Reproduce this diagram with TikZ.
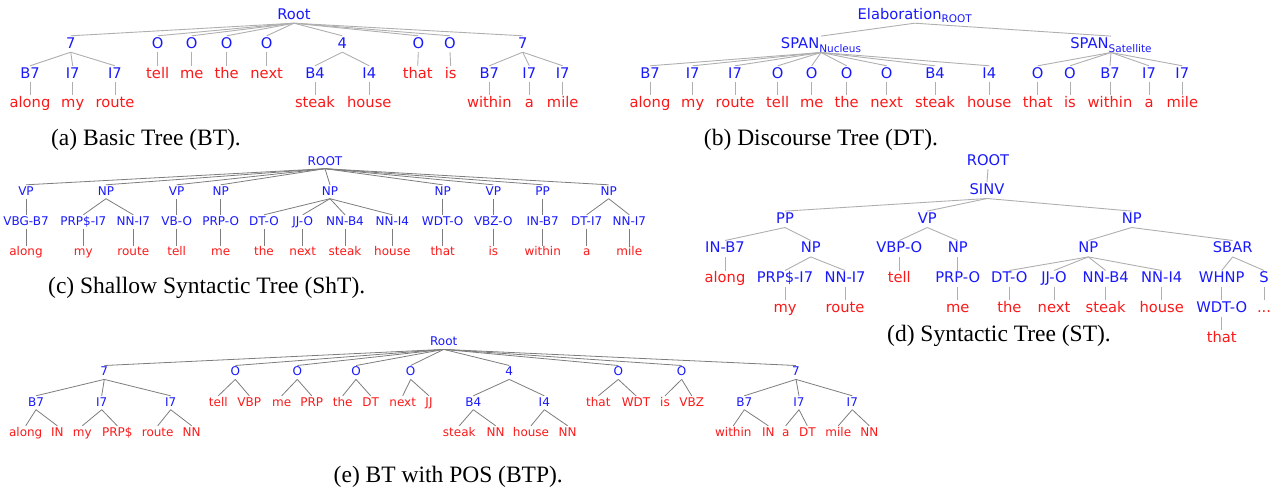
\documentclass[tikz,border=0pt]{standalone}
\usepackage{fontspec}
\setmainfont{Liberation Serif}
\newfontfamily\dejavu{DejaVu Sans}
\definecolor{tb}{RGB}{25,25,250}
\definecolor{tr}{RGB}{250,25,25}
\definecolor{la}{RGB}{175,175,175}
\definecolor{lc}{RGB}{125,125,125}
\newcommand\fbig{\dejavu\fontsize{14.7}{17}\selectfont}
\newcommand\fsmall{\dejavu\fontsize{12}{14}\selectfont}
\newcommand\fsub{\dejavu\fontsize{10.5}{12}\selectfont}
\begin{document}
\begin{tikzpicture}[x=1pt,y=-1pt,
  nb/.style={font=\fbig, text=tb, inner sep=1pt, text height=11pt, text depth=3pt, anchor=base},
  nr/.style={nb, text=tr},
  sb/.style={font=\fsmall, text=tb, inner sep=1pt, text height=9pt, text depth=2.5pt, anchor=base},
  sr/.style={sb, text=tr},
  capt/.style={font=\fontsize{23.5}{26}\selectfont, anchor=base, inner sep=0pt},
  ea/.style={draw=la, line width=0.9pt},
  ec/.style={draw=lc, line width=0.8pt}]
\useasboundingbox (0,0) rectangle (1282,490);
% ---------------- (a) ----------------
\node[nb] (aR) at (294,19) {Root};
\node[nb] (a1) at (70.7,48) {7};
\node[nb] (a2) at (157.7,48) {O};
\node[nb] (a3) at (191.7,48) {O};
\node[nb] (a4) at (226.7,48) {O};
\node[nb] (a5) at (266.7,48) {O};
\node[nb] (a6) at (342.3,48) {4};
\node[nb] (a7) at (418.3,48) {O};
\node[nb] (a8) at (450,48) {O};
\node[nb] (a9) at (522.7,48) {7};
\node[nb] (a11) at (30,78) {B7};
\node[nb] (a12) at (72.7,78) {I7};
\node[nb] (a13) at (115,78) {I7};
\node[nr] (a2w) at (157.7,78) {tell};
\node[nr] (a3w) at (191.7,78) {me};
\node[nr] (a4w) at (226.7,78) {the};
\node[nr] (a5w) at (266.7,78) {next};
\node[nb] (a61) at (315,78) {B4};
\node[nb] (a62) at (369.3,78) {I4};
\node[nr] (a7w) at (417.7,78) {that};
\node[nr] (a8w) at (450.7,78) {is};
\node[nb] (a91) at (489.3,78) {B7};
\node[nb] (a92) at (529.3,78) {I7};
\node[nb] (a93) at (562.7,78) {I7};
\node[nr] (a11w) at (30,107) {along};
\node[nr] (a12w) at (72.7,107) {my};
\node[nr] (a13w) at (115,107) {route};
\node[nr] (a61w) at (315,107) {steak};
\node[nr] (a62w) at (369.3,107) {house};
\node[nr] (a91w) at (489.3,107) {within};
\node[nr] (a92w) at (529.3,107) {a};
\node[nr] (a93w) at (562.7,107) {mile};
\foreach \p/\c in {aR/a1,aR/a2,aR/a3,aR/a4,aR/a5,aR/a6,aR/a7,aR/a8,aR/a9,
  a1/a11,a1/a12,a1/a13,a2/a2w,a3/a3w,a4/a4w,a5/a5w,a6/a61,a6/a62,a7/a7w,a8/a8w,
  a9/a91,a9/a92,a9/a93,a11/a11w,a12/a12w,a13/a13w,a61/a61w,a62/a62w,
  a91/a91w,a92/a92w,a93/a93w}
  \draw[ea] (\p.south) -- (\c.north);
\node[capt] (capa) at (146,145) {(a) Basic Tree (BT).};
% ---------------- (b) ----------------
\node[nb] (bR) at (914.7,19) {Elaboration{\fsub\raisebox{-3.5pt}{ROOT}}};
\node[nb] (bN) at (821,48.3) {SPAN{\fsub\raisebox{-4pt}{Nucleus}}};
\node[nb] (bS) at (1111,48.3) {SPAN{\fsub\raisebox{-4pt}{Satellite}}};
\node[nb] (b1) at (650,78) {B7};
\node[nb] (b2) at (692.7,78) {I7};
\node[nb] (b3) at (735,78) {I7};
\node[nb] (b4) at (777.7,78) {O};
\node[nb] (b5) at (811.7,78) {O};
\node[nb] (b6) at (846.7,78) {O};
\node[nb] (b7) at (886.7,78) {O};
\node[nb] (b8) at (935,78) {B4};
\node[nb] (b9) at (989.3,78) {I4};
\node[nb] (b10) at (1037.7,78) {O};
\node[nb] (b11) at (1070,78) {O};
\node[nb] (b12) at (1110,78) {B7};
\node[nb] (b13) at (1149,78) {I7};
\node[nb] (b14) at (1182.3,78) {I7};
\node[nr] (b1w) at (650,107) {along};
\node[nr] (b2w) at (692.7,107) {my};
\node[nr] (b3w) at (735,107) {route};
\node[nr] (b4w) at (777.7,107) {tell};
\node[nr] (b5w) at (811.7,107) {me};
\node[nr] (b6w) at (846.7,107) {the};
\node[nr] (b7w) at (886.7,107) {next};
\node[nr] (b8w) at (935,107) {steak};
\node[nr] (b9w) at (989.3,107) {house};
\node[nr] (b10w) at (1037.7,107) {that};
\node[nr] (b11w) at (1070,107) {is};
\node[nr] (b12w) at (1110,107) {within};
\node[nr] (b13w) at (1149,107) {a};
\node[nr] (b14w) at (1182.3,107) {mile};
\foreach \p/\c in {bR/bN,bR/bS,bN/b1,bN/b2,bN/b3,bN/b4,bN/b5,bN/b6,bN/b7,bN/b8,bN/b9,
  bS/b10,bS/b11,bS/b12,bS/b13,bS/b14}
  \draw[ea] (\p.south) -- (\c.north);
\foreach \i in {1,...,14}
  \draw[ea] (b\i.south) -- (b\i w.north);
\node[capt] (capb) at (821,145) {(b) Discourse Tree (DT).};
% ---------------- (c) ----------------
\node[sb] (cR) at (325,165) {ROOT};
\node[sb] (c1) at (26,195) {VP};
\node[sb] (c2) at (106,195) {NP};
\node[sb] (c3) at (176.7,195) {VP};
\node[sb] (c4) at (220.7,195) {NP};
\node[sb] (c5) at (330,195) {NP};
\node[sb] (c6) at (442.7,195) {NP};
\node[sb] (c7) at (493.3,195) {VP};
\node[sb] (c8) at (542.7,195) {PP};
\node[sb] (c9) at (608.7,195) {NP};
\node[sb] (c11) at (26,225) {VBG-B7};
\node[sb] (c21) at (83.3,225) {PRP\$-I7};
\node[sb] (c22) at (133.3,225) {NN-I7};
\node[sb] (c31) at (176.7,225) {VB-O};
\node[sb] (c41) at (220.7,225) {PRP-O};
\node[sb] (c51) at (264,225) {DT-O};
\node[sb] (c52) at (302.7,225) {JJ-O};
\node[sb] (c53) at (345,225) {NN-B4};
\node[sb] (c54) at (392.3,225) {NN-I4};
\node[sb] (c61) at (442.7,225) {WDT-O};
\node[sb] (c71) at (493.3,225) {VBZ-O};
\node[sb] (c81) at (542.7,225) {IN-B7};
\node[sb] (c91) at (586.7,225) {DT-I7};
\node[sb] (c92) at (629.3,225) {NN-I7};
\node[sr] (c11w) at (26,255.7) {along};
\node[sr] (c21w) at (83.3,255.7) {my};
\node[sr] (c22w) at (133.3,255.7) {route};
\node[sr] (c31w) at (176.7,255.7) {tell};
\node[sr] (c41w) at (220.7,255.7) {me};
\node[sr] (c51w) at (264,255.7) {the};
\node[sr] (c52w) at (302.7,255.7) {next};
\node[sr] (c53w) at (345,255.7) {steak};
\node[sr] (c54w) at (392.3,255.7) {house};
\node[sr] (c61w) at (442.7,255.7) {that};
\node[sr] (c71w) at (493.3,255.7) {is};
\node[sr] (c81w) at (542.7,255.7) {within};
\node[sr] (c91w) at (586.7,255.7) {a};
\node[sr] (c92w) at (629.3,255.7) {mile};
\foreach \p/\c in {cR/c1,cR/c2,cR/c3,cR/c4,cR/c5,cR/c6,cR/c7,cR/c8,cR/c9,
  c1/c11,c2/c21,c2/c22,c3/c31,c4/c41,c5/c51,c5/c52,c5/c53,c5/c54,c6/c61,c7/c71,c8/c81,c9/c91,c9/c92,
  c11/c11w,c21/c21w,c22/c22w,c31/c31w,c41/c41w,c51/c51w,c52/c52w,c53/c53w,c54/c54w,
  c61/c61w,c71/c71w,c81/c81w,c91/c91w,c92/c92w}
  \draw[ec] (\p.south) -- (\c.north);
\node[capt] (capc) at (206.7,293.3) {(c) Shallow Syntactic Tree (ShT).};
% ---------------- (d) ----------------
\node[nb] (dR) at (988,165) {ROOT};
\node[nb] (dS) at (987,194.3) {SINV};
\node[nb] (dPP) at (785,223.3) {PP};
\node[nb] (dVP) at (927.3,223.3) {VP};
\node[nb] (dNP) at (1131.7,223.3) {NP};
\node[nb] (dIN) at (725,252.7) {IN-B7};
\node[nb] (dNPa) at (810.7,252.7) {NP};
\node[nb] (dVBP) at (899.3,252.7) {VBP-O};
\node[nb] (dNPb) at (957.7,252.7) {NP};
\node[nb] (dNPc) at (1088.3,252.7) {NP};
\node[nb] (dSBAR) at (1232.7,252.7) {SBAR};
\node[nr] (dalong) at (725,282.7) {along};
\node[nb] (dPRPS) at (785,282.7) {PRP\$-I7};
\node[nb] (dNNI) at (845,282.7) {NN-I7};
\node[nr] (dtell) at (899.3,282.7) {tell};
\node[nb] (dPRP) at (957.7,282.7) {PRP-O};
\node[nb] (dDT) at (1009.3,282.7) {DT-O};
\node[nb] (dJJ) at (1054,282.7) {JJ-O};
\node[nb] (dNB4) at (1105.7,282.7) {NN-B4};
\node[nb] (dNI4) at (1161.7,282.7) {NN-I4};
\node[nb] (dWHNP) at (1221.7,282.7) {WHNP};
\node[nb] (dSs) at (1264,282.7) {S};
\node[nr] (dmy) at (785,312.3) {my};
\node[nr] (droute) at (845,312.3) {route};
\node[nr] (dme) at (957.7,312.3) {me};
\node[nr] (dthe) at (1009.3,312.3) {the};
\node[nr] (dnext) at (1054,312.3) {next};
\node[nr] (dsteak) at (1105.7,312.3) {steak};
\node[nr] (dhouse) at (1161.7,312.3) {house};
\node[nb] (dWDT) at (1221.7,312.3) {WDT-O};
\node[nr] (ddots) at (1264,312.3) {...};
\node[nr] (dthat) at (1221.7,342.3) {that};
\foreach \p/\c in {dR/dS,dS/dPP,dS/dVP,dS/dNP,dPP/dIN,dPP/dNPa,dVP/dVBP,dVP/dNPb,dNP/dNPc,dNP/dSBAR,
  dIN/dalong,dNPa/dPRPS,dNPa/dNNI,dVBP/dtell,dNPb/dPRP,dNPc/dDT,dNPc/dJJ,dNPc/dNB4,dNPc/dNI4,
  dSBAR/dWHNP,dSBAR/dSs,dPRPS/dmy,dNNI/droute,dPRP/dme,dDT/dthe,dJJ/dnext,dNB4/dsteak,dNI4/dhouse,
  dWHNP/dWDT,dSs/ddots,dWDT/dthat}
  \draw[ea] (\p.south) -- (\c.north);
\node[capt] (capd) at (999,341.7) {(d) Syntactic Tree (ST).};
% ---------------- (e) ----------------
\node[sb] (eR) at (443.7,345.7) {Root};
\node[sb] (e1) at (104.3,375.7) {7};
\node[sb] (e2) at (235.3,375.7) {O};
\node[sb] (e3) at (297.3,375.7) {O};
\node[sb] (e4) at (356,375.7) {O};
\node[sb] (e5) at (410.7,375.7) {O};
\node[sb] (e6) at (509.3,375.7) {4};
\node[sb] (e7) at (618.3,375.7) {O};
\node[sb] (e8) at (681.7,375.7) {O};
\node[sb] (e9) at (796,375.7) {7};
\node[sb] (e11) at (36,406) {B7};
\node[sb] (e12) at (101.7,406) {I7};
\node[sb] (e13) at (170.7,406) {I7};
\node[sr] (e2a) at (218.3,406) {tell};
\node[sr] (e2b) at (249.3,406) {VBP};
\node[sr] (e3a) at (281.7,406) {me};
\node[sr] (e3b) at (311.7,406) {PRP};
\node[sr] (e4a) at (342.7,406) {the};
\node[sr] (e4b) at (370.7,406) {DT};
\node[sr] (e5a) at (402.7,406) {next};
\node[sr] (e5b) at (429,406) {JJ};
\node[sb] (e61) at (473.3,406) {B4};
\node[sb] (e62) at (544.3,406) {I4};
\node[sr] (e7a) at (598.3,406) {that};
\node[sr] (e7b) at (636,406) {WDT};
\node[sr] (e8a) at (665,406) {is};
\node[sr] (e8b) at (691.7,406) {VBZ};
\node[sb] (e91) at (744.3,406) {B7};
\node[sb] (e92) at (799,406) {I7};
\node[sb] (e93) at (852.3,406) {I7};
\node[sr] (e11a) at (25.7,436) {along};
\node[sr] (e11b) at (57.3,436) {IN};
\node[sr] (e12a) at (82.3,436) {my};
\node[sr] (e12b) at (117.3,436) {PRP\$};
\node[sr] (e13a) at (157.7,436) {route};
\node[sr] (e13b) at (191.7,436) {NN};
\node[sr] (e61a) at (459.3,436) {steak};
\node[sr] (e61b) at (495.7,436) {NN};
\node[sr] (e62a) at (531,436) {house};
\node[sr] (e62b) at (567.7,436) {NN};
\node[sr] (e91a) at (733.3,436) {within};
\node[sr] (e91b) at (768.3,436) {IN};
\node[sr] (e92a) at (785.7,436) {a};
\node[sr] (e92b) at (807.3,436) {DT};
\node[sr] (e93a) at (838.3,436) {mile};
\node[sr] (e93b) at (869.3,436) {NN};
\foreach \p/\c in {eR/e1,eR/e2,eR/e3,eR/e4,eR/e5,eR/e6,eR/e7,eR/e8,eR/e9,
  e1/e11,e1/e12,e1/e13,e2/e2a,e2/e2b,e3/e3a,e3/e3b,e4/e4a,e4/e4b,e5/e5a,e5/e5b,
  e6/e61,e6/e62,e7/e7a,e7/e7b,e8/e8a,e8/e8b,e9/e91,e9/e92,e9/e93,
  e11/e11a,e11/e11b,e12/e12a,e12/e12b,e13/e13a,e13/e13b,e61/e61a,e61/e61b,e62/e62a,e62/e62b,
  e91/e91a,e91/e91b,e92/e92a,e92/e92b,e93/e93a,e93/e93b}
  \draw[ec] (\p.south) -- (\c.north);
\node[capt] (cape) at (448.3,482) {(e) BT with POS (BTP).};
\end{tikzpicture}
\end{document}
